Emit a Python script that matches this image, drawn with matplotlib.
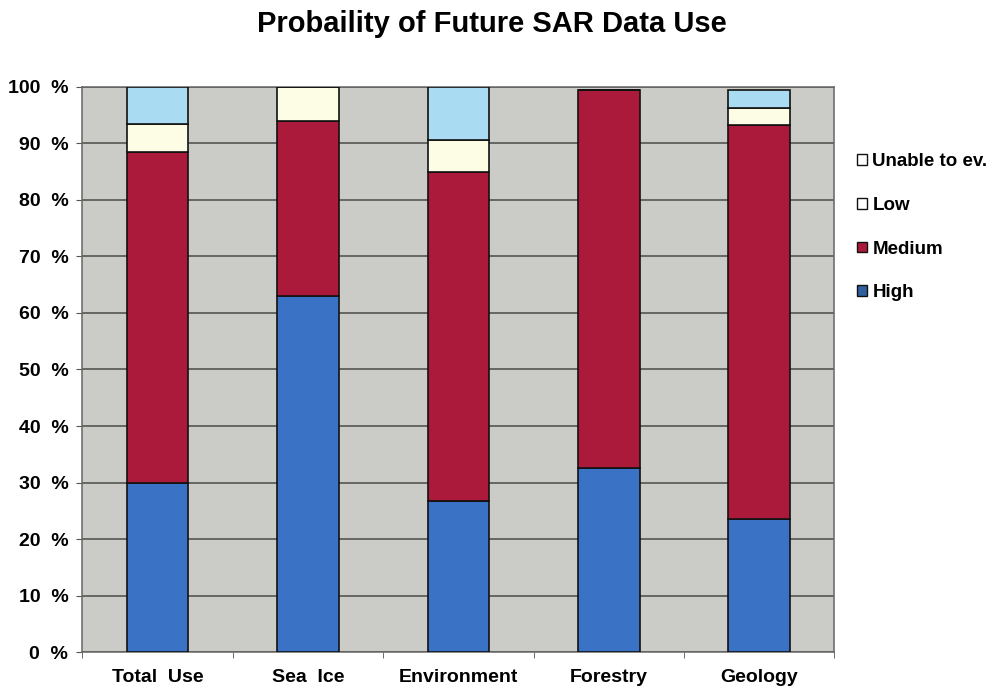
import matplotlib
matplotlib.use("Agg")
import matplotlib.pyplot as plt
from matplotlib.patches import Patch
import numpy as np

categories = ["Total  Use", "Sea  Ice", "Environment", "Forestry", "Geology"]
high = [30.0, 63.0, 26.7, 32.5, 23.5]
medium = [58.5, 31.0, 58.3, 67.0, 69.8]
low = [5.0, 6.0, 5.6, 0.0, 3.0]
unable = [6.5, 0.0, 9.4, 0.0, 3.2]
y_ticks = [0, 10, 20, 30, 40, 50, 60, 70, 80, 90, 100]
y_tick_labels = [f"{v}  %" for v in y_ticks]

col_high = "#3a73c6"
col_medium = "#ab1a3a"
col_low = "#fdfde6"
col_unable = "#a9dcf3"

plt.rcParams["font.family"] = ["Liberation Sans", "DejaVu Sans"]

fig = plt.figure(figsize=(10.03, 6.90), dpi=100)
ax = fig.add_axes([0.082, 0.055, 0.750, 0.819])
ax.set_facecolor("#cbcbc8")

x = np.arange(len(categories))
w = 0.41
bottom = np.zeros(len(categories))
series = [("High", high, col_high), ("Medium", medium, col_medium),
          ("Low", low, col_low), ("Unable to ev.", unable, col_unable)]
for name, vals, col in series:
    vals = np.array(vals)
    ax.bar(x, vals, w, bottom=bottom, color=col, edgecolor="#111111",
           linewidth=1.2, zorder=3)
    bottom += vals

ax.set_xlim(-0.5, len(categories) - 0.5)
ax.set_ylim(0, 100)
ax.set_yticks(y_ticks)
ax.set_yticklabels(y_tick_labels, fontsize=14, fontweight="bold")
ax.yaxis.grid(True, color="#4a4a4a", linewidth=1.1, zorder=1)
ax.set_axisbelow(True)

ax.set_xticks(x)
ax.set_xticklabels(categories, fontsize=14, fontweight="bold")
ax.tick_params(axis="x", length=0, pad=12)
ax.set_xticks(np.arange(len(categories) + 1) - 0.5, minor=True)
ax.tick_params(axis="x", which="minor", length=4, color="#555555")
ax.tick_params(axis="y", length=4, color="#555555", pad=6)

for side in ["left", "right", "top", "bottom"]:
    ax.spines[side].set_color("#666666")
    ax.spines[side].set_linewidth(1.1)

fig.suptitle("Probaility of Future SAR Data Use", x=0.49, y=0.985,
             fontsize=21, fontweight="bold")

handles = [Patch(facecolor="white", edgecolor="#111111", label="Unable to ev."),
           Patch(facecolor="white", edgecolor="#111111", label="Low"),
           Patch(facecolor=col_medium, edgecolor="#111111", label="Medium"),
           Patch(facecolor="#2f5f9e", edgecolor="#111111", label="High")]
leg = fig.legend(handles=handles, loc="upper left", bbox_to_anchor=(0.838, 0.802),
                 frameon=False, handlelength=0.5, handleheight=0.5,
                 handletextpad=0.3, labelspacing=1.42,
                 prop={"size": 13.5, "weight": "bold"})

fig.savefig("out.png", dpi=100)
